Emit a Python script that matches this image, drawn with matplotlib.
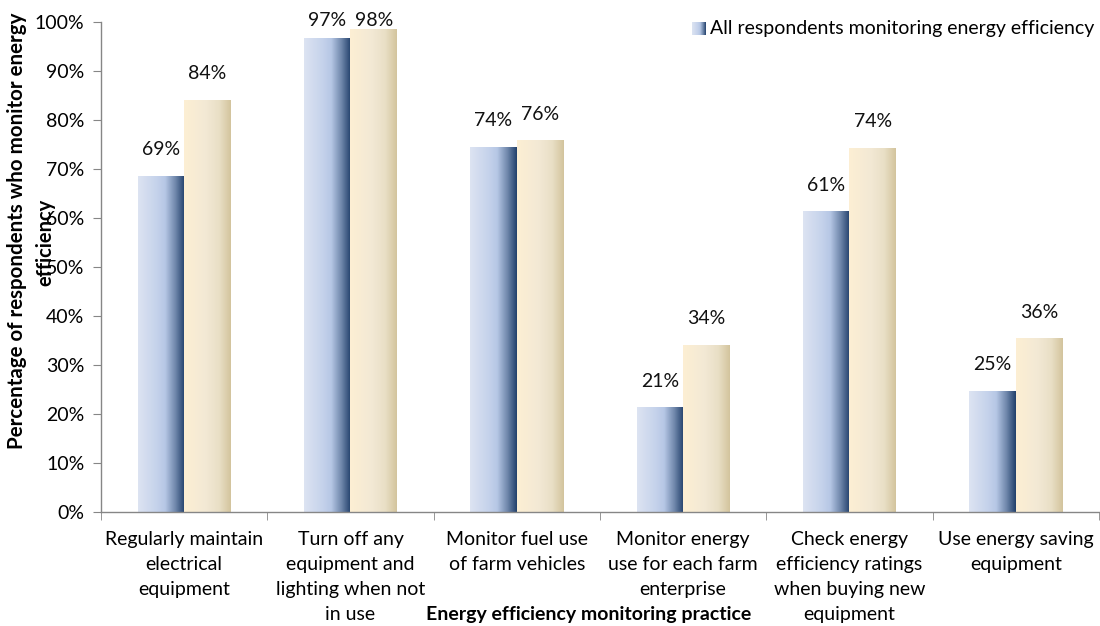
import numpy as np
import matplotlib
matplotlib.use("Agg")
import matplotlib.pyplot as plt
from matplotlib.colors import LinearSegmentedColormap

plt.rcParams["font.family"] = ["Lato", "DejaVu Sans"]

categories = [
    "Regularly maintain\nelectrical\nequipment",
    "Turn off any\nequipment and\nlighting when not\nin use",
    "Monitor fuel use\nof farm vehicles",
    "Monitor energy\nuse for each farm\nenterprise",
    "Check energy\nefficiency ratings\nwhen buying new\nequipment",
    "Use energy saving\nequipment",
]
all_respondents = [0.686, 0.967, 0.745, 0.214, 0.614, 0.247]
second_series = [0.841, 0.985, 0.759, 0.341, 0.743, 0.355]
all_labels = ["69%", "97%", "74%", "21%", "61%", "25%"]
second_labels = ["84%", "98%", "76%", "34%", "74%", "36%"]
yticks = [0, 0.1, 0.2, 0.3, 0.4, 0.5, 0.6, 0.7, 0.8, 0.9, 1.0]
legend_label = "All respondents monitoring energy efficiency"

FS = 14

blue_cmap = LinearSegmentedColormap.from_list(
    "blue", [(0, "#dde4f2"), (0.4, "#c5d2eb"), (0.58, "#b6c7e5"),
             (0.8, "#6f87ab"), (1.0, "#22406b")])
cream_cmap = LinearSegmentedColormap.from_list(
    "cream", [(0, "#fdefd3"), (0.45, "#f3e9d5"), (0.75, "#e9dfc6"),
              (1.0, "#d3c49d")])

fig = plt.figure(figsize=(11, 6.26), dpi=100)
ax = fig.add_axes([0.0918, 0.1821, 0.9072, 0.7828])

x = np.arange(len(categories))
w = 0.28
grad = np.linspace(0, 1, 256).reshape(1, -1)


def gradient_bars(xpos, vals, cmap):
    bars = ax.bar(xpos, vals, w, color="none", edgecolor="none")
    for b in bars:
        x0, h, bw = b.get_x(), b.get_height(), b.get_width()
        im = ax.imshow(grad, cmap=cmap, aspect="auto",
                       extent=(x0, x0 + bw, 0, h), zorder=2)
        im.set_clip_path(b)
    return bars


gradient_bars(x - w / 2, all_respondents, blue_cmap)
gradient_bars(x + w / 2, second_series, cream_cmap)

for xs, vals, labs in [(x - w / 2, all_respondents, all_labels),
                       (x + w / 2, second_series, second_labels)]:
    for xi, v, lab in zip(xs, vals, labs):
        ax.text(xi, min(v + 0.053, 1.004), lab, ha="center", va="center",
                fontsize=FS, color="#111111", clip_on=False)

ax.set_xlim(-0.5, len(categories) - 0.5)
ax.set_ylim(0, 1.0)
ax.set_yticks(yticks)
ax.set_yticklabels([f"{int(round(t * 100))}%" for t in yticks], fontsize=FS)
ax.set_xticks(x)
ax.set_xticklabels(categories, fontsize=FS, linespacing=1.55, va="top")
ax.set_xticks(np.arange(len(categories) + 1) - 0.5, minor=True)
ax.tick_params(axis="x", which="major", length=0, pad=14)
ax.tick_params(axis="x", which="minor", length=6, color="#868686")
ax.tick_params(axis="y", length=6, color="#868686", pad=6)

for side in ["top", "right"]:
    ax.spines[side].set_visible(False)
for side in ["left", "bottom"]:
    ax.spines[side].set_color("#868686")
    ax.spines[side].set_linewidth(1.0)

# y label is wrapped and overlaps the ticks in the original
fig.text(0.0155, 0.632, "Percentage of respondents who monitor energy",
         rotation=90, ha="center", va="center", fontsize=FS + 0.8,
         fontweight="bold")
fig.text(0.041, 0.613, "efficiency", rotation=90, ha="center", va="center",
         fontsize=FS + 0.5, fontweight="bold")
fig.text(0.535, 0.019, "Energy efficiency monitoring practice",
         ha="center", va="center", fontsize=FS, fontweight="bold")

# legend: one entry with a gradient swatch
lax = fig.add_axes([0.629, 0.944, 0.012, 0.021])
lax.imshow(grad, cmap=blue_cmap, aspect="auto")
lax.set_axis_off()
fig.text(0.645, 0.954, legend_label, ha="left", va="center", fontsize=FS)

fig.savefig("out.png", dpi=100)
